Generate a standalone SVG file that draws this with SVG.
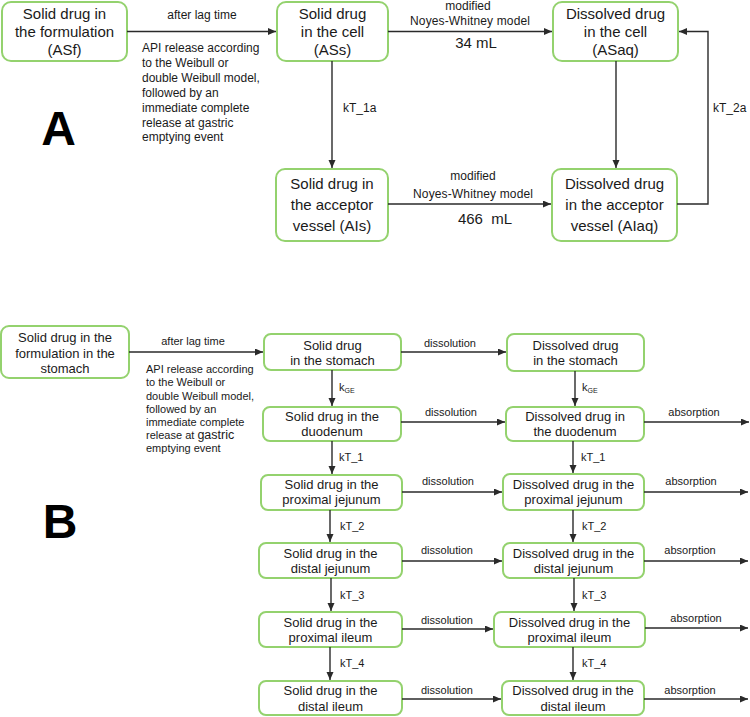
<svg xmlns="http://www.w3.org/2000/svg" width="750" height="717" viewBox="0 0 750 717">
<style>
.box{fill:#fff;stroke:#94d26e;stroke-width:2}
.t{font-family:"Liberation Sans",Arial,sans-serif;fill:#1a1a1a;text-anchor:middle}
.ta{font-size:15px}
.tb{font-size:13px}
.s{font-family:"Liberation Sans",Arial,sans-serif;fill:#1a1a1a;font-size:12px}
.sb{font-family:"Liberation Sans",Arial,sans-serif;fill:#1a1a1a;font-size:11px}
.m{text-anchor:middle}
.big{font-family:"Liberation Sans",Arial,sans-serif;font-weight:bold;font-size:48px;fill:#000;text-anchor:middle}
.c{fill:none;stroke:#2a2a2a;stroke-width:1.4}
</style>
<defs>
<marker id="ah" markerUnits="userSpaceOnUse" markerWidth="9" markerHeight="8" refX="8" refY="3.5" orient="auto">
<path d="M0,0 L8,3.5 L0,7 z" fill="#2a2a2a"/>
</marker>
</defs>
<rect width="750" height="717" fill="#fff"/>

<!-- Panel labels -->
<text class="big" x="58.5" y="145">A</text>
<text class="big" x="60" y="538">B</text>

<!-- Panel A nodes -->
<g id="ASf"><rect class="box" x="2" y="2" width="125" height="59" rx="9"/>
<text class="t ta" x="64.5" y="19">Solid drug in</text><text class="t ta" x="64.5" y="37">the formulation</text><text class="t ta" x="64.5" y="55">(ASf)</text></g>
<g id="ASs"><rect class="box" x="277" y="2" width="111" height="59" rx="9"/>
<text class="t ta" x="332.5" y="19">Solid drug</text><text class="t ta" x="332.5" y="37">in the cell</text><text class="t ta" x="332.5" y="55">(ASs)</text></g>
<g id="ASaq"><rect class="box" x="553" y="2" width="125" height="59" rx="9"/>
<text class="t ta" x="615.5" y="19">Dissolved drug</text><text class="t ta" x="615.5" y="37">in the cell</text><text class="t ta" x="615.5" y="55">(ASaq)</text></g>
<g id="AIs"><rect class="box" x="276" y="169" width="112" height="72" rx="9"/>
<text class="t ta" x="332" y="189">Solid drug in</text><text class="t ta" x="332" y="210">the acceptor</text><text class="t ta" x="332" y="231">vessel (AIs)</text></g>
<g id="AIaq"><rect class="box" x="552" y="169" width="125" height="72" rx="9"/>
<text class="t ta" x="614.5" y="189">Dissolved drug</text><text class="t ta" x="614.5" y="210">in the acceptor</text><text class="t ta" x="614.5" y="231">vessel (AIaq)</text></g>

<!-- Panel B nodes -->
<g id="Bform"><rect class="box" x="1" y="326" width="128" height="52" rx="8"/>
<text class="t tb" x="65" y="342">Solid drug in the</text><text class="t tb" x="65" y="357.5">formulation in the</text><text class="t tb" x="65" y="373">stomach</text></g>
<g id="Bss"><rect class="box" x="264" y="334" width="137" height="36" rx="7"/>
<text class="t tb" x="332.5" y="349.5">Solid drug</text><text class="t tb" x="332.5" y="364.5">in the stomach</text></g>
<g id="Bds"><rect class="box" x="507" y="334" width="137" height="37" rx="7"/>
<text class="t tb" x="575.5" y="349.5">Dissolved drug</text><text class="t tb" x="575.5" y="364.5">in the stomach</text></g>
<g id="Bsd"><rect class="box" x="263" y="407" width="138" height="34" rx="7"/>
<text class="t tb" x="332" y="420.5">Solid drug in the</text><text class="t tb" x="332" y="435.5">duodenum</text></g>
<g id="Bdd"><rect class="box" x="506" y="407" width="138" height="34" rx="7"/>
<text class="t tb" x="575" y="420.5">Dissolved drug in</text><text class="t tb" x="575" y="435.5">the duodenum</text></g>
<g id="Bspj"><rect class="box" x="261" y="475" width="141" height="35" rx="7"/>
<text class="t tb" x="331.5" y="488.5">Solid drug in the</text><text class="t tb" x="331.5" y="504">proximal jejunum</text></g>
<g id="Bdpj"><rect class="box" x="503" y="474" width="141" height="36" rx="7"/>
<text class="t tb" x="573.5" y="488.5">Dissolved drug in the</text><text class="t tb" x="573.5" y="504">proximal jejunum</text></g>
<g id="Bsdj"><rect class="box" x="259" y="543" width="143" height="35" rx="7"/>
<text class="t tb" x="330.5" y="557.5">Solid drug in the</text><text class="t tb" x="330.5" y="573">distal jejunum</text></g>
<g id="Bddj"><rect class="box" x="503" y="543" width="141" height="35" rx="7"/>
<text class="t tb" x="573.5" y="557.5">Dissolved drug in the</text><text class="t tb" x="573.5" y="573">distal jejunum</text></g>
<g id="Bspi"><rect class="box" x="259" y="612" width="143" height="35" rx="7"/>
<text class="t tb" x="330.5" y="626.5">Solid drug in the</text><text class="t tb" x="330.5" y="642">proximal ileum</text></g>
<g id="Bdpi"><rect class="box" x="494" y="612" width="151" height="35" rx="7"/>
<text class="t tb" x="569.5" y="626.5">Dissolved drug in the</text><text class="t tb" x="569.5" y="642">proximal ileum</text></g>
<g id="Bsdi"><rect class="box" x="259" y="681" width="143" height="34" rx="7"/>
<text class="t tb" x="330.5" y="695">Solid drug in the</text><text class="t tb" x="330.5" y="710.5">distal ileum</text></g>
<g id="Bddi"><rect class="box" x="502" y="681" width="142" height="34" rx="7"/>
<text class="t tb" x="573" y="695">Dissolved drug in the</text><text class="t tb" x="573" y="710.5">distal ileum</text></g>

<!-- Connectors -->
<g id="connectors">
<path class="c" marker-end="url(#ah)" d="M127,31.5 H276"/>
<path class="c" marker-end="url(#ah)" d="M388,31.5 H552"/>
<path class="c" marker-end="url(#ah)" d="M332,61 V168"/>
<path class="c" marker-end="url(#ah)" d="M616,61 V168"/>
<path class="c" marker-end="url(#ah)" d="M388,204 H551"/>
<path class="c" marker-end="url(#ah)" d="M677,204 H708 V31.5 H679"/>

<path class="c" marker-end="url(#ah)" d="M129,352 H263"/>
<path class="c" marker-end="url(#ah)" d="M401,352 H506"/>
<path class="c" marker-end="url(#ah)" d="M332,370 V406"/>
<path class="c" marker-end="url(#ah)" d="M575,371 V406"/>
<path class="c" marker-end="url(#ah)" d="M401,422 H505"/>
<path class="c" marker-end="url(#ah)" d="M644,422 H749"/>
<path class="c" marker-end="url(#ah)" d="M332,441 V474"/>
<path class="c" marker-end="url(#ah)" d="M573,441 V473"/>
<path class="c" marker-end="url(#ah)" d="M402,492 H502"/>
<path class="c" marker-end="url(#ah)" d="M644,492 H748"/>
<path class="c" marker-end="url(#ah)" d="M330,510 V542"/>
<path class="c" marker-end="url(#ah)" d="M573,510 V542"/>
<path class="c" marker-end="url(#ah)" d="M402,561 H502"/>
<path class="c" marker-end="url(#ah)" d="M644,561 H748"/>
<path class="c" marker-end="url(#ah)" d="M331,578 V611"/>
<path class="c" marker-end="url(#ah)" d="M574,578 V611"/>
<path class="c" marker-end="url(#ah)" d="M402,629 H493"/>
<path class="c" marker-end="url(#ah)" d="M645,628 H748"/>
<path class="c" marker-end="url(#ah)" d="M330,647 V680"/>
<path class="c" marker-end="url(#ah)" d="M573,647 V680"/>
<path class="c" marker-end="url(#ah)" d="M402,699 H501"/>
<path class="c" marker-end="url(#ah)" d="M644,699 H748"/>
</g>

<!-- Connector labels A -->
<g id="labelsA">
<text class="s m" x="202" y="19">after lag time</text>
<text class="s" x="142" y="52">API release according</text>
<text class="s" x="142" y="67">to the Weibull or</text>
<text class="s" x="142" y="82">double Weibull model,</text>
<text class="s" x="142" y="97">followed by an</text>
<text class="s" x="142" y="112">immediate complete</text>
<text class="s" x="142" y="127">release at gastric</text>
<text class="s" x="142" y="141">emptying event</text>
<text class="s m" x="468" y="10">modified</text>
<text class="s m" x="470" y="25" textLength="120">Noyes-Whitney model</text>
<text class="t ta" x="476" y="48">34 mL</text>
<text class="s" x="343" y="112">kT_1a</text>
<text class="s" x="713" y="112">kT_2a</text>
<text class="s m" x="473" y="180">modified</text>
<text class="s m" x="473" y="198" textLength="120">Noyes-Whitney model</text>
<text class="t ta" x="485" y="224" xml:space="preserve">466  mL</text>
</g>

<!-- Connector labels B -->
<g id="labelsB">
<text class="sb m" x="193" y="345">after lag time</text>
<text class="sb" x="146" y="373">API release according</text>
<text class="sb" x="146" y="386">to the Weibull or</text>
<text class="sb" x="146" y="399.5">double Weibull model,</text>
<text class="sb" x="146" y="413">followed by an</text>
<text class="sb" x="146" y="426">immediate complete</text>
<text class="sb" x="146" y="439">release at <tspan font-size="12.5px">gastric</tspan></text>
<text class="sb" x="146" y="451.5">emptying event</text>
<text class="sb m" x="450" y="347">dissolution</text>
<text class="sb m" x="451" y="416">dissolution</text>
<text class="sb m" x="448" y="485">dissolution</text>
<text class="sb m" x="447" y="554">dissolution</text>
<text class="sb m" x="447" y="624">dissolution</text>
<text class="sb m" x="447" y="694">dissolution</text>
<text class="sb m" x="694" y="416">absorption</text>
<text class="sb m" x="691" y="485">absorption</text>
<text class="sb m" x="690" y="554">absorption</text>
<text class="sb m" x="696" y="622">absorption</text>
<text class="sb m" x="690" y="694">absorption</text>
<text class="sb" x="339" y="391">k<tspan font-size="7px" dy="2">GE</tspan></text>
<text class="sb" x="582" y="391">k<tspan font-size="7px" dy="2">GE</tspan></text>
<text class="sb" x="339" y="461">kT_1</text>
<text class="sb" x="581" y="461">kT_1</text>
<text class="sb" x="340" y="530">kT_2</text>
<text class="sb" x="582" y="530">kT_2</text>
<text class="sb" x="340" y="599">kT_3</text>
<text class="sb" x="582" y="599">kT_3</text>
<text class="sb" x="340" y="667">kT_4</text>
<text class="sb" x="582" y="667">kT_4</text>
</g>
</svg>
